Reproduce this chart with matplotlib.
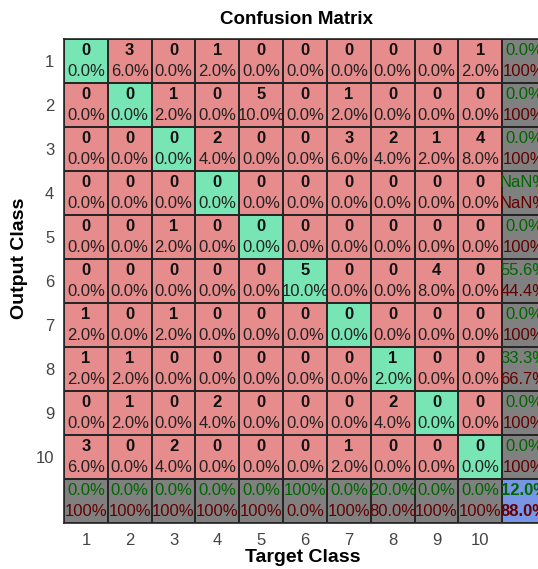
import numpy as np
import matplotlib
matplotlib.use('Agg')
import matplotlib.pyplot as plt
from matplotlib.colors import ListedColormap

plt.rcParams['font.family'] = ['Liberation Sans', 'DejaVu Sans']

# classes and counts (rows = output class, cols = target class)
classes = ['1', '2', '3', '4', '5', '6', '7', '8', '9', '10']
counts = [
    [0, 3, 0, 1, 0, 0, 0, 0, 0, 1],
    [0, 0, 1, 0, 5, 0, 1, 0, 0, 0],
    [0, 0, 0, 2, 0, 0, 3, 2, 1, 4],
    [0, 0, 0, 0, 0, 0, 0, 0, 0, 0],
    [0, 0, 1, 0, 0, 0, 0, 0, 0, 0],
    [0, 0, 0, 0, 0, 5, 0, 0, 4, 0],
    [1, 0, 1, 0, 0, 0, 0, 0, 0, 0],
    [1, 1, 0, 0, 0, 0, 0, 1, 0, 0],
    [0, 1, 0, 2, 0, 0, 0, 2, 0, 0],
    [3, 0, 2, 0, 0, 0, 1, 0, 0, 0],
]

cm = np.array(counts, dtype=float)
n = len(classes)
total = cm.sum()


def pct(v):
    if np.isnan(v):
        return 'NaN%'
    if round(v, 1) == 100:
        return '100%'
    return '%.1f%%' % v


# colour index: 0 red, 1 green, 2 gray, 3 blue
cidx = np.zeros((n + 1, n + 1))
for i in range(n):
    cidx[i, i] = 1
cidx[n, :] = 2
cidx[:, n] = 2
cidx[n, n] = 3
cmap = ListedColormap(['#e68c8c', '#78e6b4', '#808080', '#7896e6'])

fig = plt.figure(figsize=(5.38, 5.69), dpi=100)
ax = fig.add_axes([64/538, 46/569, 482/538, 484/569])
xs = np.arange(0.5, n + 1.6, 1)
ax.pcolormesh(xs, xs, cidx, cmap=cmap, vmin=-0.5, vmax=3.5,
              edgecolors='#262626', linewidth=1.2)
ax.set_xlim(0.5, n + 1.5)
ax.set_ylim(n + 1.5, 0.5)

fs = 12
dg = '#006600'
dr = '#660000'
for i in range(n):
    for j in range(n):
        r, c = i + 1, j + 1
        ax.text(c, r - 0.23, '%d' % cm[i, j], ha='center', va='center',
                fontsize=fs, fontweight='bold', color='#111111')
        ax.text(c, r + 0.24, pct(100 * cm[i, j] / total), ha='center',
                va='center', fontsize=fs, color='#222222')

row_tot = cm.sum(axis=1)
col_tot = cm.sum(axis=0)
diag = np.diag(cm)
for i in range(n):
    p = 100 * diag[i] / row_tot[i] if row_tot[i] > 0 else np.nan
    q = 100 - p if not np.isnan(p) else np.nan
    ax.text(n + 1, i + 1 - 0.23, pct(p), ha='center', va='center',
            fontsize=fs, color=dg)
    ax.text(n + 1, i + 1 + 0.24, pct(q), ha='center', va='center',
            fontsize=fs, color=dr)
for j in range(n):
    p = 100 * diag[j] / col_tot[j] if col_tot[j] > 0 else np.nan
    q = 100 - p if not np.isnan(p) else np.nan
    ax.text(j + 1, n + 1 - 0.23, pct(p), ha='center', va='center',
            fontsize=fs, color=dg)
    ax.text(j + 1, n + 1 + 0.24, pct(q), ha='center', va='center',
            fontsize=fs, color=dr)
acc = 100 * diag.sum() / total
ax.text(n + 1, n + 1 - 0.23, pct(acc), ha='center', va='center',
        fontsize=fs, fontweight='bold', color=dg)
ax.text(n + 1, n + 1 + 0.24, pct(100 - acc), ha='center', va='center',
        fontsize=fs, fontweight='bold', color=dr)

ax.set_xticks(np.arange(1, n + 1))
ax.set_xticklabels(classes)
ax.set_yticks(np.arange(1, n + 1))
ax.set_yticklabels(classes)
ax.tick_params(length=0, labelsize=12, colors='#444444', pad=7)
for s in ax.spines.values():
    s.set_color('#262626')
    s.set_linewidth(1.2)

fig.text(297/538, 1 - 20/569, 'Confusion Matrix', ha='center', va='center',
         fontsize=13.5, fontweight='bold')
fig.text(303/538, 1 - 557/569, 'Target Class', ha='center', va='center',
         fontsize=14, fontweight='bold')
fig.text(20/538, 1 - 258/569, 'Output Class', ha='center', va='center',
         fontsize=14, fontweight='bold', rotation=90)

fig.savefig('out.png', dpi=100)
